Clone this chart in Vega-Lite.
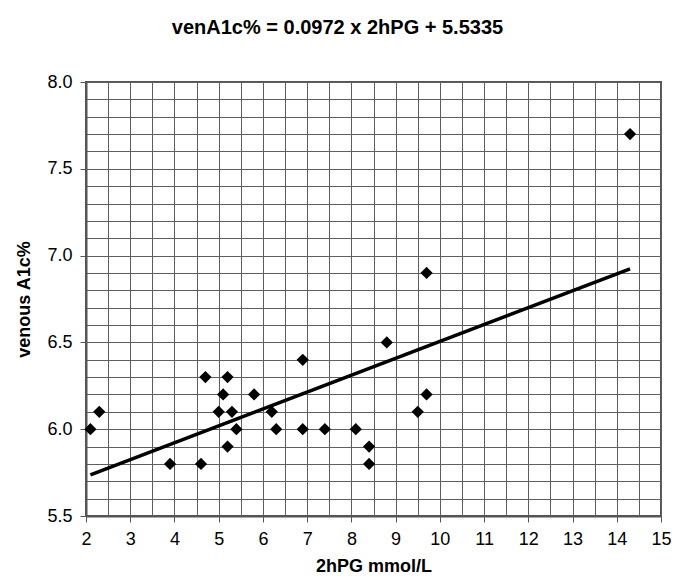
{
  "$schema": "https://vega.github.io/schema/vega-lite/v6.json",
  "autosize": "none",
  "width": 575,
  "height": 434,
  "padding": {"left": 86, "top": 82, "right": 13, "bottom": 69},
  "background": "white",
  "config": {
    "font": "Liberation Sans",
    "view": {"stroke": "#555555", "strokeWidth": 2}
  },
  "title": {
    "text": "venA1c% = 0.0972 x 2hPG + 5.5335",
    "font": "Liberation Sans",
    "fontSize": 20,
    "fontWeight": "bold",
    "color": "#000000",
    "anchor": "middle",
    "dx": -36,
    "offset": 35
  },
  "datasets": {
    "points": [
      {"pg": 2.1, "a1c": 6.0}, {"pg": 2.3, "a1c": 6.1}, {"pg": 3.9, "a1c": 5.8},
      {"pg": 4.6, "a1c": 5.8}, {"pg": 4.7, "a1c": 6.3}, {"pg": 5.0, "a1c": 6.1},
      {"pg": 5.1, "a1c": 6.2}, {"pg": 5.2, "a1c": 6.3}, {"pg": 5.2, "a1c": 5.9},
      {"pg": 5.3, "a1c": 6.1}, {"pg": 5.4, "a1c": 6.0}, {"pg": 5.8, "a1c": 6.2},
      {"pg": 6.2, "a1c": 6.1}, {"pg": 6.3, "a1c": 6.0}, {"pg": 6.9, "a1c": 6.4},
      {"pg": 6.9, "a1c": 6.0}, {"pg": 7.4, "a1c": 6.0}, {"pg": 8.1, "a1c": 6.0},
      {"pg": 8.4, "a1c": 5.9}, {"pg": 8.4, "a1c": 5.8}, {"pg": 8.8, "a1c": 6.5},
      {"pg": 9.5, "a1c": 6.1}, {"pg": 9.7, "a1c": 6.2}, {"pg": 9.7, "a1c": 6.9},
      {"pg": 14.3, "a1c": 7.7}
    ],
    "fit": [
      {"pg": 2.1, "a1c": 5.737},
      {"pg": 14.3, "a1c": 6.924}
    ]
  },
  "layer": [
    {
      "data": {"name": "fit"},
      "mark": {"type": "line", "color": "#000000", "strokeWidth": 3.5},
      "encoding": {
        "x": {
          "field": "pg", "type": "quantitative",
          "scale": {"domain": [2, 15], "nice": false, "zero": false},
          "axis": {
            "title": "2hPG mmol/L",
            "titleFont": "Liberation Sans",
            "titleFontSize": 18,
            "titleFontWeight": "bold",
            "titleColor": "#000000",
            "titlePadding": 9,
            "tickCount": 200,
            "values": [2, 2.5, 3, 3.5, 4, 4.5, 5, 5.5, 6, 6.5, 7, 7.5, 8, 8.5, 9, 9.5, 10, 10.5, 11, 11.5, 12, 12.5, 13, 13.5, 14, 14.5, 15],
            "labelExpr": "abs(datum.value - round(datum.value)) < 0.001 ? format(datum.value, 'd') : ''",
            "labelFont": "Liberation Sans",
            "labelFontSize": 18,
            "labelColor": "#000000",
            "labelPadding": 8,
            "labelFlush": false,
            "labelOverlap": false,
            "tickSize": 6,
            "tickColor": "#555555",
            "tickOpacity": {"condition": {"test": "abs(datum.value - round(datum.value)) < 0.001", "value": 1}, "value": 0},
            "domainColor": "#555555",
            "domainWidth": 2,
            "grid": true,
            "gridColor": "#5e5e5e",
            "gridOpacity": 1,
            "gridWidth": 1
          }
        },
        "y": {
          "field": "a1c", "type": "quantitative",
          "scale": {"domain": [5.5, 8.0], "nice": false, "zero": false},
          "axis": {
            "title": "venous A1c%",
            "titleFont": "Liberation Sans",
            "titleFontSize": 18,
            "titleFontWeight": "bold",
            "titleColor": "#000000",
            "titlePadding": 13,
            "tickCount": 200,
            "values": [5.5, 5.6, 5.7, 5.8, 5.9, 6.0, 6.1, 6.2, 6.3, 6.4, 6.5, 6.6, 6.7, 6.8, 6.9, 7.0, 7.1, 7.2, 7.3, 7.4, 7.5, 7.6, 7.7, 7.8, 7.9, 8.0],
            "labelExpr": "abs(datum.value * 2 - round(datum.value * 2)) < 0.001 ? format(datum.value, '.1f') : ''",
            "labelFont": "Liberation Sans",
            "labelFontSize": 18,
            "labelColor": "#000000",
            "labelPadding": 8,
            "labelFlush": false,
            "labelOverlap": false,
            "tickSize": 6,
            "tickColor": "#555555",
            "tickOpacity": {"condition": {"test": "abs(datum.value * 2 - round(datum.value * 2)) < 0.001", "value": 1}, "value": 0},
            "domainColor": "#555555",
            "domainWidth": 2,
            "grid": true,
            "gridColor": "#5e5e5e",
            "gridOpacity": 1,
            "gridWidth": 1
          }
        }
      }
    },
    {
      "data": {"name": "points"},
      "mark": {"type": "point", "shape": "diamond", "filled": true, "color": "#000000", "size": 150, "opacity": 1},
      "encoding": {
        "x": {"field": "pg", "type": "quantitative"},
        "y": {"field": "a1c", "type": "quantitative"}
      }
    }
  ]
}
